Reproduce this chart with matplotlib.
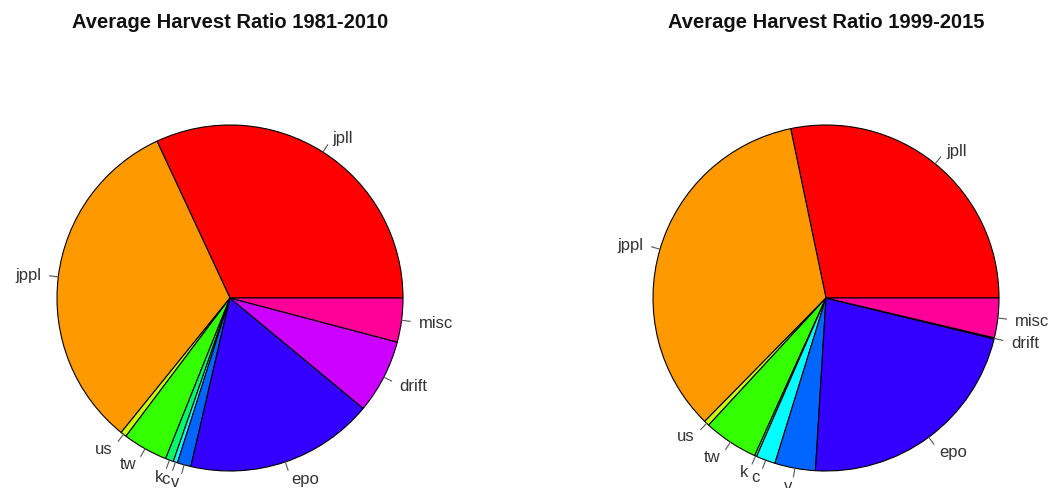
import numpy as np
import matplotlib
matplotlib.use("Agg")
import matplotlib.pyplot as plt

plt.rcParams['font.family'] = ['Liberation Sans', 'DejaVu Sans']

# fleet categories and harvest shares
fleets = ["jpll", "jppl", "us", "tw", "k", "c", "v", "epo", "drift", "misc"]
share_1981_2010 = [0.319, 0.322, 0.0056, 0.042, 0.0075, 0.004, 0.0128, 0.176, 0.069, 0.041]
share_1999_2015 = [0.283, 0.344, 0.005, 0.051, 0.002, 0.018, 0.038, 0.222, 0.001, 0.037]
titles = ["Average Harvest Ratio 1981-2010", "Average Harvest Ratio 1999-2015"]

# R rainbow(10)
colors = ["#FF0000", "#FF9900", "#CCFF00", "#33FF00", "#00FF66",
          "#00FFFF", "#0066FF", "#3300FF", "#CC00FF", "#FF0099"]

W, H = 1056, 489
fig = plt.figure(figsize=(W / 100, H / 100), dpi=100)

R = 173       # pie radius in pixels
LIM = 1.6     # axes half-width in radius units
centers = [(230, 299), (826, 299)]

for (cx, cy), vals, title in zip(centers, [share_1981_2010, share_1999_2015], titles):
    half = LIM * R
    ax = fig.add_axes([(cx - half) / W, (H - cy - half) / H, 2 * half / W, 2 * half / H])

    wedges, texts = ax.pie(vals, labels=fleets, colors=colors, startangle=0,
                           counterclock=True, radius=1, labeldistance=1.1,
                           wedgeprops=dict(edgecolor="black", linewidth=0.8),
                           textprops=dict(fontsize=12, color="#333333"))
    # pie resets the limits, so set them afterwards
    ax.set_xlim(-LIM, LIM)
    ax.set_ylim(-LIM, LIM)
    ax.set_aspect("equal")
    ax.axis("off")
    for w in wedges:
        w.set_clip_on(False)
    for t in texts:
        t.set_clip_on(False)

    # small R-style tick marks between slice edge and label
    for w in wedges:
        mid = np.deg2rad((w.theta1 + w.theta2) / 2)
        ax.plot([np.cos(mid), 1.05 * np.cos(mid)], [np.sin(mid), 1.05 * np.sin(mid)],
                color="#555555", lw=0.8, clip_on=False)

    fig.text(cx / W, 1 - 23 / H, title, ha="center", va="center",
             fontsize=14.5, fontweight="bold", color="#111111")

fig.savefig("out.png", dpi=100, facecolor="white")
